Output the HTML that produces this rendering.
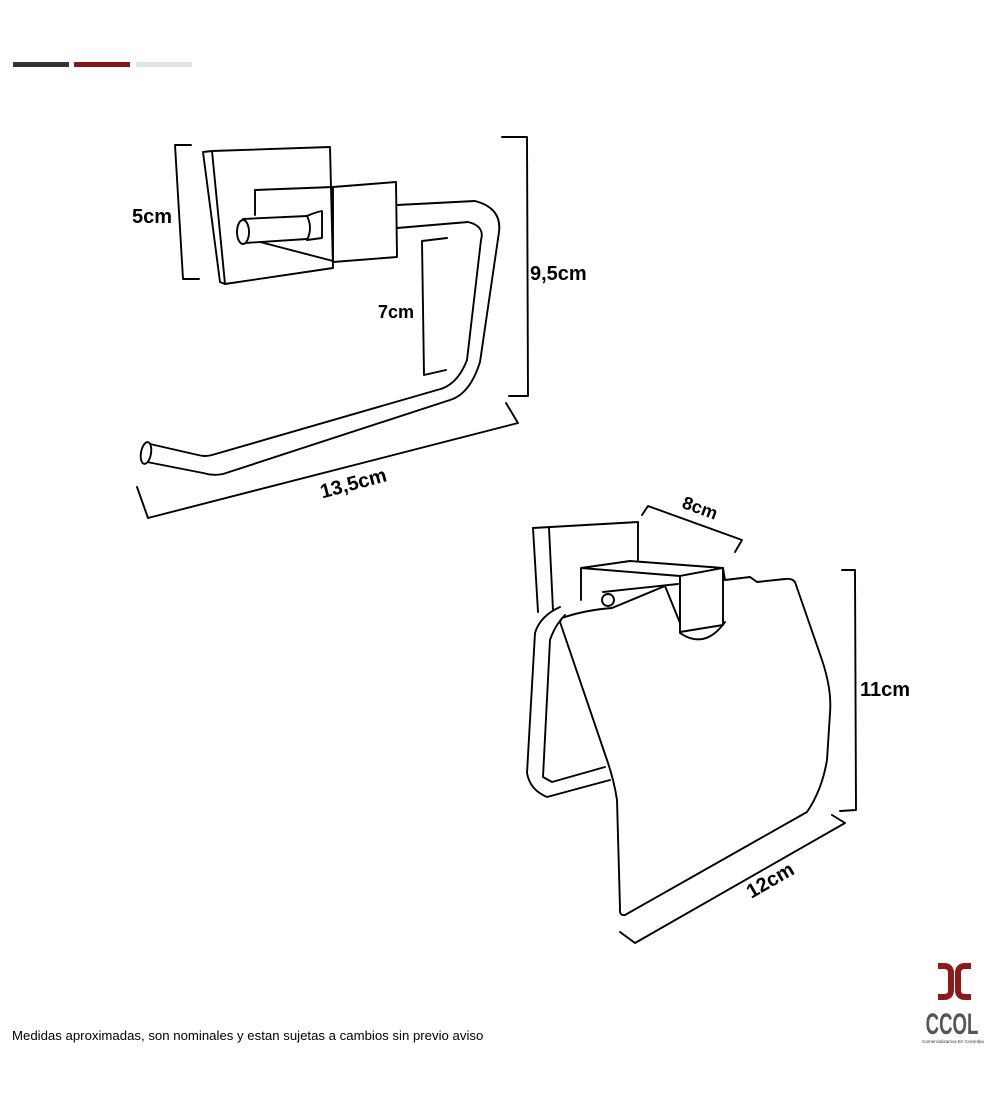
<!DOCTYPE html>
<html><head><meta charset="utf-8"><style>
html,body{margin:0;padding:0;background:#fff;}
svg{display:block}
text{font-family:"Liberation Sans",sans-serif;}
</style></head><body>
<svg width="1000" height="1100" viewBox="0 0 1000 1100" xmlns="http://www.w3.org/2000/svg">
<rect x="13" y="62" width="56" height="5" fill="#333"/>
<rect x="74" y="62" width="56" height="5" fill="#8b1414"/>
<rect x="136" y="62" width="56" height="5" fill="#e3e3e3"/>
<g fill="none" stroke="#000" stroke-width="1.9" stroke-linejoin="round" stroke-linecap="round">
<polyline points="191,145 175,145 183,279 199,279"/>
<polygon points="212,151 330,147 333,268 225,284"/>
<polyline points="212,151 203,152 220,282 225,284"/>
<polyline points="255,215 255,190 333,187"/>
<polygon points="333,187 396,182 397,257 333,262" fill="#fff"/>
<path d="M243,219 L307,216 M245,243 L307,239 M260,242 L333,261"/>
<path d="M307,216 Q316,212 322,211 L322,238 L307,240 Q313,228 307,216 Z" fill="#fff"/>
<ellipse cx="243" cy="232" rx="6" ry="12" fill="#fff"/>
<path d="M397,205 L475,201 Q502,208 499,232 L480,362 Q470,394 450,400 L223,474 Q213,476 203,473 L147,462"/>
<path d="M397,228 L468,222 Q485,226 481,240 L467,360 Q457,386 437,390 L212,455 Q205,457 198,455 L150,444"/>
<ellipse cx="146" cy="453" rx="5" ry="11" transform="rotate(10 146 453)" fill="#fff"/>
<polyline points="447,238 422,241 424,375 446,370"/>
<polyline points="502,137 527,137 528,396 509,396"/>
<polyline points="137,487 148,518 518,423 506,403"/>
<polyline points="533,528 638,522 638,560"/>
<path d="M533,528 L538,612 M549,528 L553,610"/>
<path d="M581,600 L581,568 L630,561 L723,568 L680,576 L581,568"/>
<path d="M560,607 Q540,616 535,633 L527,773 Q530,790 547,797 L610,780"/>
<path d="M565,615 Q555,625 550,640 L543,777 L552,782 L605,767"/>
<path d="M603,592 L678,584"/>
<circle cx="608" cy="600" r="6" fill="#fff"/>
<path d="M562,618 Q585,610 612,608 L665,586 L680,623 L680,576 L723,568 L725,580 L750,577 L757,582 L785,579 Q792,578 795,582 L822,660 Q832,690 830,713 L827,760 Q822,790 807,812 L625,915 Q619,916 620,908 L617,800 Q614,780 607,760 L560,622 Z" fill="#fff"/>
<polygon points="680,576 723,568 723,625 680,632" fill="#fff"/>
<path d="M680,633 Q705,650 725,622"/>
<polyline points="642,515 648,506 742,540 735,552"/>
<polyline points="842,570 855,570 856,810 840,811"/>
<polyline points="620,932 635,943 845,823 832,815"/>
</g>
<g font-weight="bold" font-size="20" fill="#000">
<text x="132" y="223">5cm</text>
<text x="530" y="280">9,5cm</text>
<text x="378" y="318" font-size="18">7cm</text>
<text x="353" y="490" text-anchor="middle" transform="rotate(-15 353 482)">13,5cm</text>
<text x="700" y="514" text-anchor="middle" transform="rotate(20 700 508)" font-size="18">8cm</text>
<text x="860" y="696">11cm</text>
<text x="770" y="887" text-anchor="middle" transform="rotate(-30 770 880)">12cm</text>
</g>
<text x="12" y="1040" font-size="13.2" fill="#000">Medidas aproximadas, son nominales y estan sujetas a cambios sin previo aviso</text>
<g fill="none" stroke="#8b1a1a" stroke-width="6">
<path d="M938,966 L944,966 Q951,966 951,973 L951,990 Q951,997 944,997 L938,997"/>
<path d="M971,966 L965,966 Q958,966 958,973 L958,990 Q958,997 965,997 L971,997"/>
</g>
<text transform="translate(952 1034) scale(0.62 1)" x="0" y="0" font-size="30" font-weight="bold" fill="#555" text-anchor="middle">CCOL</text>
<text x="953" y="1043" font-size="4.5" fill="#333" text-anchor="middle">Comercializamos En Colombia</text>
</svg>
</body></html>
